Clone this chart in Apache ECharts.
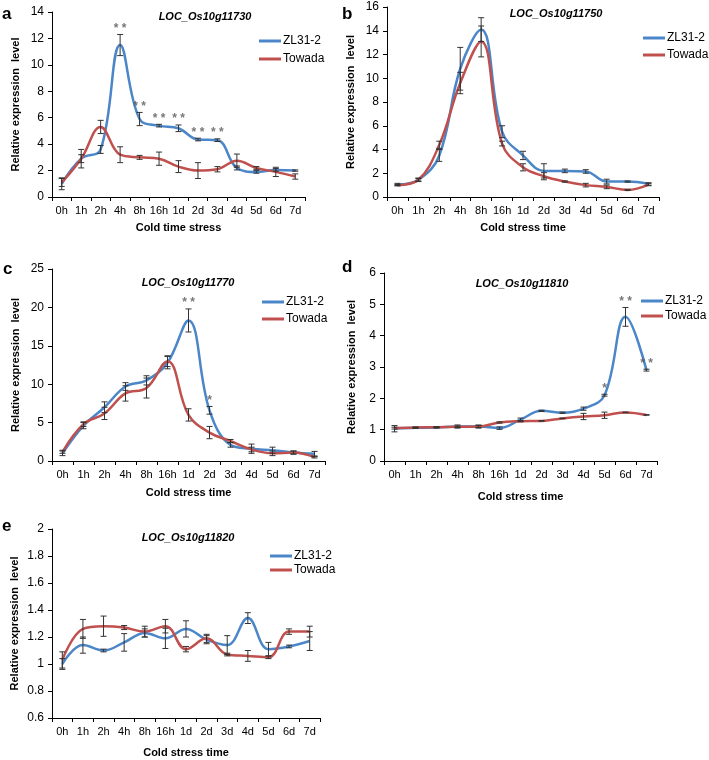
<!DOCTYPE html>
<html>
<head>
<meta charset="utf-8">
<script src="https://cdn.jsdelivr.net/npm/echarts@6/dist/echarts.min.js"></script>
<style>
html, body { margin: 0; padding: 0; background: #fff; }
#chart { width: 709px; height: 760px; }
</style>
</head>
<body>
<div id="chart"></div>
<script>
// time points
var cats = ['0h', '1h', '2h', '4h', '8h', '16h', '1d', '2d', '3d', '4d', '5d', '6d', '7d'];

// a  LOC_Os10g11730
var aZL = [1.0, 2.9, 3.6, 11.5, 5.9, 5.4, 5.2, 4.35, 4.3, 2.2, 1.9, 2.05, 2.0];
var aZLErr = [0.45, 0.3, 0.3, 0.8, 0.5, 0.1, 0.25, 0.1, 0.1, 0.15, 0.1, 0.1, 0.05];
var aTo = [1.1, 2.9, 5.3, 3.2, 3.0, 2.9, 2.3, 2.0, 2.1, 2.75, 2.2, 1.9, 1.55];
var aToErr = [0.3, 0.7, 0.5, 0.6, 0.15, 0.5, 0.45, 0.6, 0.2, 0.5, 0.1, 0.35, 0.2];
var aSig = ['', '', '', '**', '**', '**', '**', '**', '**', '', '', '', ''];

// b  LOC_Os10g11750
var bZL = [1.05, 1.45, 3.5, 10.8, 14.1, 5.5, 3.5, 2.2, 2.2, 2.15, 1.3, 1.3, 1.1];
var bZLErr = [0.1, 0.15, 0.5, 1.8, 1.0, 0.5, 0.35, 0.6, 0.15, 0.15, 0.2, 0.05, 0.1];
var bTo = [1.0, 1.45, 4.4, 9.6, 13.1, 4.5, 2.5, 1.75, 1.3, 1.0, 0.85, 0.6, 1.05];
var bToErr = [0.05, 0.1, 0.3, 0.9, 1.3, 0.2, 0.3, 0.3, 0.05, 0.15, 0.15, 0.05, 0.1];
var bSig = ['', '', '', '', '', '', '', '', '', '', '', '', ''];

// c  LOC_Os10g11770
var cZL = [1.0, 4.6, 7.0, 9.7, 10.5, 12.8, 18.3, 6.6, 2.1, 1.6, 1.4, 1.1, 0.95];
var cZLErr = [0.3, 0.4, 0.7, 0.5, 0.6, 0.8, 1.5, 0.5, 0.3, 0.6, 0.4, 0.2, 0.3];
var cTo = [1.2, 4.8, 6.2, 8.8, 9.5, 13.0, 6.0, 3.7, 2.6, 1.5, 1.0, 1.1, 0.5];
var cToErr = [0.2, 0.3, 0.8, 1.0, 1.3, 0.7, 0.8, 0.8, 0.2, 0.3, 0.3, 0.2, 0.1];
var cSig = ['', '', '', '', '', '', '**', '*', '', '', '', '', ''];

// d  LOC_Os10g11810
var dZL = [1.03, 1.06, 1.07, 1.1, 1.1, 1.05, 1.32, 1.6, 1.54, 1.67, 2.1, 4.6, 2.9];
var dZLErr = [0.1, 0.02, 0.02, 0.05, 0.05, 0.04, 0.05, 0.02, 0.02, 0.05, 0.03, 0.3, 0.03];
var dTo = [1.05, 1.07, 1.08, 1.09, 1.1, 1.23, 1.27, 1.28, 1.36, 1.42, 1.46, 1.55, 1.47];
var dToErr = [0.03, 0.01, 0.01, 0.02, 0.03, 0.02, 0.02, 0.01, 0.01, 0.1, 0.1, 0.01, 0.01];
var dSig = ['', '', '', '', '', '', '', '', '', '', '*', '**', '**'];

// e  LOC_Os10g11820
var eZL = [1.0, 1.14, 1.1, 1.16, 1.23, 1.19, 1.26, 1.18, 1.14, 1.34, 1.11, 1.13, 1.17];
var eZLErr = [0.04, 0.06, 0.01, 0.065, 0.03, 0.075, 0.06, 0.03, 0.07, 0.04, 0.05, 0.01, 0.07];
var eTo = [1.03, 1.26, 1.28, 1.27, 1.24, 1.28, 1.11, 1.19, 1.07, 1.06, 1.05, 1.24, 1.24];
var eToErr = [0.06, 0.07, 0.075, 0.015, 0.04, 0.05, 0.02, 0.03, 0.01, 0.04, 0.01, 0.02, 0.04];
var eSig = ['', '', '', '', '', '', '', '', '', '', '', '', ''];

var blue = '#4a86c8';
var red = '#c0504d';
var font = '"Liberation Sans", Arial, sans-serif';

var chart = echarts.init(document.getElementById('chart'), null, {renderer: 'canvas'});

// 面板布局
var panels = [
    {zl: aZL, zlE: aZLErr, to: aTo, toE: aToErr, sig: aSig, gene: 'LOC_Os10g11730', letter: 'a', xname: 'Cold time stress',
     max: 14, step: 2, min: 0, grid: {left: 52, top: 12, width: 253, height: 185},
     geneX: 205, geneY: 11, letX: 2, letY: 6, legX: 259, legY: 35, legGap: 6, yGap: 31, xGap: 25},
    {zl: bZL, zlE: bZLErr, to: bTo, toE: bToErr, sig: bSig, gene: 'LOC_Os10g11750', letter: 'b', xname: 'Cold stress time',
     max: 16, step: 2, min: 0, grid: {left: 387, top: 7, width: 272, height: 190},
     geneX: 556, geneY: 8, letX: 342, letY: 6, legX: 643, legY: 32, legGap: 5, yGap: 31, xGap: 25},
    {zl: cZL, zlE: cZLErr, to: cTo, toE: cToErr, sig: cSig, gene: 'LOC_Os10g11770', letter: 'c', xname: 'Cold stress time',
     max: 25, step: 5, min: 0, grid: {left: 52, top: 269, width: 273, height: 192},
     geneX: 188, geneY: 277, letX: 3, letY: 261, legX: 262, legY: 296, legGap: 5, yGap: 31, xGap: 26},
    {zl: dZL, zlE: dZLErr, to: dTo, toE: dToErr, sig: dSig, gene: 'LOC_Os10g11810', letter: 'd', xname: 'Cold stress time',
     max: 6, step: 1, min: 0, grid: {left: 384, top: 273, width: 273, height: 188},
     geneX: 522, geneY: 278, letX: 342, letY: 259, legX: 641, legY: 295, legGap: 3, yGap: 27, xGap: 30},
    {zl: eZL, zlE: eZLErr, to: eTo, toE: eToErr, sig: eSig, gene: 'LOC_Os10g11820', letter: 'e', xname: 'Cold stress time',
     max: 2, step: 0.2, min: 0.6, grid: {left: 52, top: 529, width: 268, height: 189},
     geneX: 188, geneY: 532, letX: 2, letY: 518, legX: 270, legY: 550, legGap: 2, yGap: 32, xGap: 29}
];

// 误差线
function errRender(params, api) {
    var x = api.value(0);
    var top = api.coord([x, api.value(2)]);
    var bot = api.coord([x, api.value(1)]);
    var w = 3;
    var st = {stroke: '#333', lineWidth: 1};
    return {
        type: 'group',
        children: [
            {type: 'line', shape: {x1: top[0], y1: top[1], x2: bot[0], y2: bot[1]}, style: st},
            {type: 'line', shape: {x1: top[0] - w, y1: top[1], x2: top[0] + w, y2: top[1]}, style: st},
            {type: 'line', shape: {x1: bot[0] - w, y1: bot[1], x2: bot[0] + w, y2: bot[1]}, style: st}
        ]
    };
}

function errData(v, e) {
    return v.map(function (val, i) { return [i, val - e[i], val + e[i]]; });
}

var grids = [], xAxes = [], yAxes = [], series = [], titles = [], legends = [];

panels.forEach(function (p, k) {
    grids.push(p.grid);
    xAxes.push({
        type: 'category',
        gridIndex: k,
        data: cats,
        boundaryGap: true,
        name: p.xname,
        nameLocation: 'middle',
        nameGap: p.xGap,
        nameTextStyle: {color: '#000', fontSize: 11, fontWeight: 'bold', fontFamily: font},
        axisLine: {lineStyle: {color: '#000', width: 1}},
        axisTick: {show: true, length: 4, inside: false, lineStyle: {color: '#000'}},
        axisLabel: {interval: 0, margin: 8, color: '#000', fontSize: 11, fontFamily: font},
        splitLine: {show: false}
    });
    yAxes.push({
        type: 'value',
        gridIndex: k,
        min: p.min,
        max: p.max,
        interval: p.step,
        name: 'Relative expression  level',
        nameLocation: 'middle',
        nameGap: p.yGap,
        nameTextStyle: {color: '#000', fontSize: 11, fontWeight: 'bold', fontFamily: font},
        axisLine: {show: true, lineStyle: {color: '#000', width: 1}},
        axisTick: {show: true, length: 4, inside: false, lineStyle: {color: '#000'}},
        axisLabel: {margin: 8, color: '#000', fontSize: 12, fontFamily: font,
            formatter: function (v) { return String(Math.round(v * 10) / 10); }},
        splitLine: {show: false}
    });
    titles.push({
        text: p.gene, left: p.geneX, top: p.geneY, textAlign: 'center', padding: 0,
        textStyle: {fontSize: 11, fontStyle: 'italic', fontWeight: 'bold', color: '#000', fontFamily: font}
    });
    titles.push({
        text: p.letter, left: p.letX, top: p.letY, padding: 0,
        textStyle: {fontSize: 17, fontWeight: 'bold', color: '#000', fontFamily: font}
    });
    legends.push({
        data: ['ZL31-2', 'Towada'],
        orient: 'vertical',
        left: p.legX,
        top: p.legY,
        padding: 0,
        itemGap: p.legGap,
        itemWidth: 22,
        itemHeight: 3,
        icon: 'rect',
        selectedMode: false,
        textStyle: {fontSize: 12, color: '#000', fontFamily: font, padding: [0, 0, 0, -3]}
    });
    series.push({
        name: 'ZL31-2', type: 'line', xAxisIndex: k, yAxisIndex: k,
        data: p.zl, smooth: 0.4, symbol: 'none',
        lineStyle: {color: blue, width: 2.5}, itemStyle: {color: blue}, z: 2
    });
    series.push({
        name: 'Towada', type: 'line', xAxisIndex: k, yAxisIndex: k,
        data: p.to, smooth: 0.4, symbol: 'none',
        lineStyle: {color: red, width: 2.5}, itemStyle: {color: red}, z: 3
    });
    series.push({
        name: 'errZL' + k, type: 'custom', xAxisIndex: k, yAxisIndex: k,
        renderItem: errRender, data: errData(p.zl, p.zlE), encode: {x: 0, y: [1, 2]}, z: 4
    });
    series.push({
        name: 'errTo' + k, type: 'custom', xAxisIndex: k, yAxisIndex: k,
        renderItem: errRender, data: errData(p.to, p.toE), encode: {x: 0, y: [1, 2]}, z: 4
    });
    // 显著性星号
    var sigPts = [];
    p.sig.forEach(function (s, i) {
        if (s) sigPts.push({value: [i, Math.max(p.zl[i] + p.zlE[i], p.to[i] + p.toE[i])], mark: s});
    });
    series.push({
        name: 'sig' + k, type: 'scatter', xAxisIndex: k, yAxisIndex: k,
        data: sigPts, symbolSize: 0, z: 5,
        label: {
            show: true, position: 'top', distance: 0,
            formatter: function (d) { return d.data.mark.split('').join(' '); },
            fontSize: 12, fontWeight: 'bold', color: '#555', fontFamily: font
        }
    });
});

var option = {
    animation: false,
    backgroundColor: '#fff',
    title: titles,
    legend: legends,
    grid: grids,
    xAxis: xAxes,
    yAxis: yAxes,
    series: series
};
chart.setOption(option);
</script>
</body>
</html>
